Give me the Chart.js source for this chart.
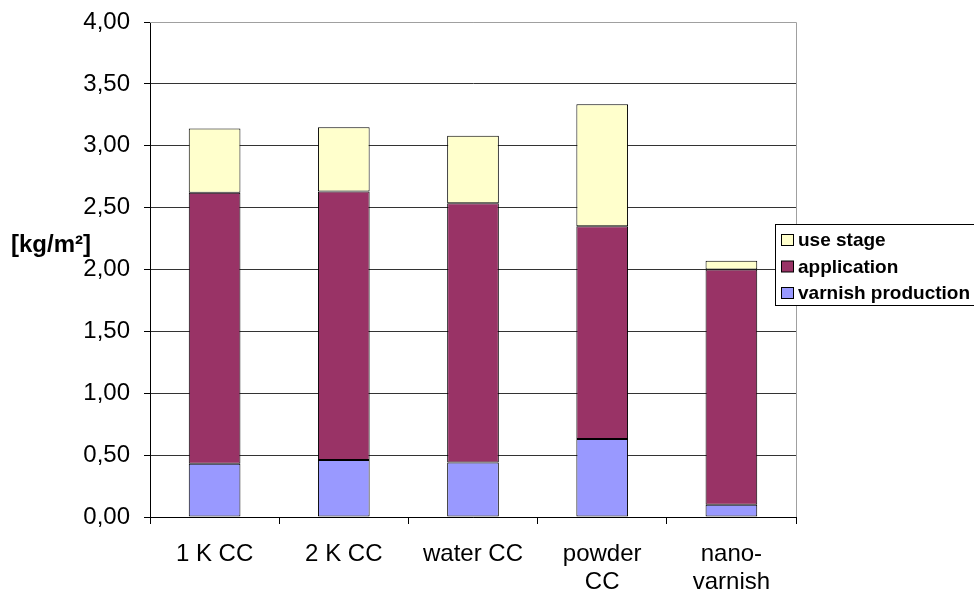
<!DOCTYPE html>
<html>
<head>
<meta charset="utf-8">
<style>
  html, body { margin: 0; padding: 0; background: #fff; overflow: hidden; }
  #wrap { width: 974px; height: 593px; position: relative; }
</style>
<script src="https://cdn.jsdelivr.net/npm/chart.js@4.4.1/dist/chart.umd.min.js"></script>
</head>
<body>
<div id="wrap"><canvas id="chart" width="974" height="593"></canvas></div>
<script>
  // values
  const categories = ["1 K CC", "2 K CC", "water CC", ["powder", "CC"], ["nano-", "varnish"]];
  const varnishProduction = [0.43, 0.46, 0.44, 0.63, 0.10];
  const application = [2.19, 2.17, 2.095, 1.72, 1.90];
  const useStage = [0.52, 0.52, 0.545, 0.985, 0.07];
  const yTicks = [0, 0.5, 1, 1.5, 2, 2.5, 3, 3.5, 4];

  const FONT = "'Liberation Sans', Arial, sans-serif";
  const fmt = v => v.toFixed(2).replace(".", ",");

  // legend box and y title, drawn like the old spreadsheet chart
  const extras = {
    id: "extras",
    afterDraw(chart) {
      const ctx = chart.ctx;
      const a = chart.chartArea;
      ctx.save();
      // plot frame, top and right in grey
      ctx.strokeStyle = "#a0a0a0";
      ctx.lineWidth = 1;
      ctx.beginPath();
      ctx.moveTo(a.left, a.top + 0.5);
      ctx.lineTo(a.right + 0.5, a.top + 0.5);
      ctx.lineTo(a.right + 0.5, a.bottom);
      ctx.stroke();

      // y title
      ctx.fillStyle = "#000";
      ctx.font = "bold 24px " + FONT;
      ctx.textBaseline = "middle";
      ctx.textAlign = "left";
      ctx.fillText("[kg/m²]", 11, 245);

      // legend
      ctx.fillStyle = "#fff";
      ctx.fillRect(775.5, 224.5, 260, 81);
      ctx.strokeStyle = "#000";
      ctx.strokeRect(775.5, 224.5, 260, 81);
      const items = [...chart.data.datasets].reverse();
      const rows = [240, 266.5, 293];
      ctx.font = "bold 19px " + FONT;
      items.forEach((ds, i) => {
        const y = rows[i];
        ctx.fillStyle = ds.backgroundColor;
        ctx.fillRect(781.5, y - 5.5, 12, 11);
        ctx.strokeStyle = "#000";
        ctx.strokeRect(781.5, y - 5.5, 12, 11);
        ctx.fillStyle = "#000";
        ctx.fillText(ds.label, 798, y + 1);
      });
      ctx.restore();
    }
  };

  new Chart(document.getElementById("chart"), {
    type: "bar",
    data: {
      labels: categories,
      datasets: [
        { label: "varnish production", data: varnishProduction, backgroundColor: "#9999ff" },
        { label: "application", data: application, backgroundColor: "#993366" },
        { label: "use stage", data: useStage, backgroundColor: "#ffffcc" }
      ].map(d => Object.assign(d, {
        borderColor: "#000", borderWidth: 1, borderSkipped: false,
        barPercentage: 0.4, categoryPercentage: 1
      }))
    },
    options: {
      responsive: false,
      animation: false,
      layout: { padding: { left: 0, right: 178, top: 22, bottom: 0 } },
      plugins: { legend: { display: false }, tooltip: { enabled: false } },
      scales: {
        x: {
          stacked: true,
          afterFit: s => { s.height = 76; s.paddingLeft = 0; s.paddingRight = 0; },
          grid: { drawOnChartArea: false, drawTicks: true, tickLength: 7, color: "#000", offset: true },
          border: { color: "#000" },
          ticks: {
            color: "#000", padding: 16, maxRotation: 0,
            font: { family: FONT, size: 24, lineHeight: 1.19 }
          }
        },
        y: {
          stacked: true,
          min: 0, max: 4,
          afterFit: s => { s.width = 150; s.paddingTop = 0; s.paddingBottom = 0; },
          afterBuildTicks: s => { s.ticks = yTicks.map(v => ({ value: v })); },
          grid: {
            color: c => (c.tick && c.tick.value === 4 ? "#a0a0a0" : "#333"),
            tickColor: "#000",
            tickLength: 6
          },
          border: { color: "#000" },
          ticks: {
            color: "#000", padding: 14,
            font: { family: FONT, size: 24 },
            callback: v => fmt(v)
          }
        }
      }
    },
    plugins: [extras]
  });
</script>
</body>
</html>
